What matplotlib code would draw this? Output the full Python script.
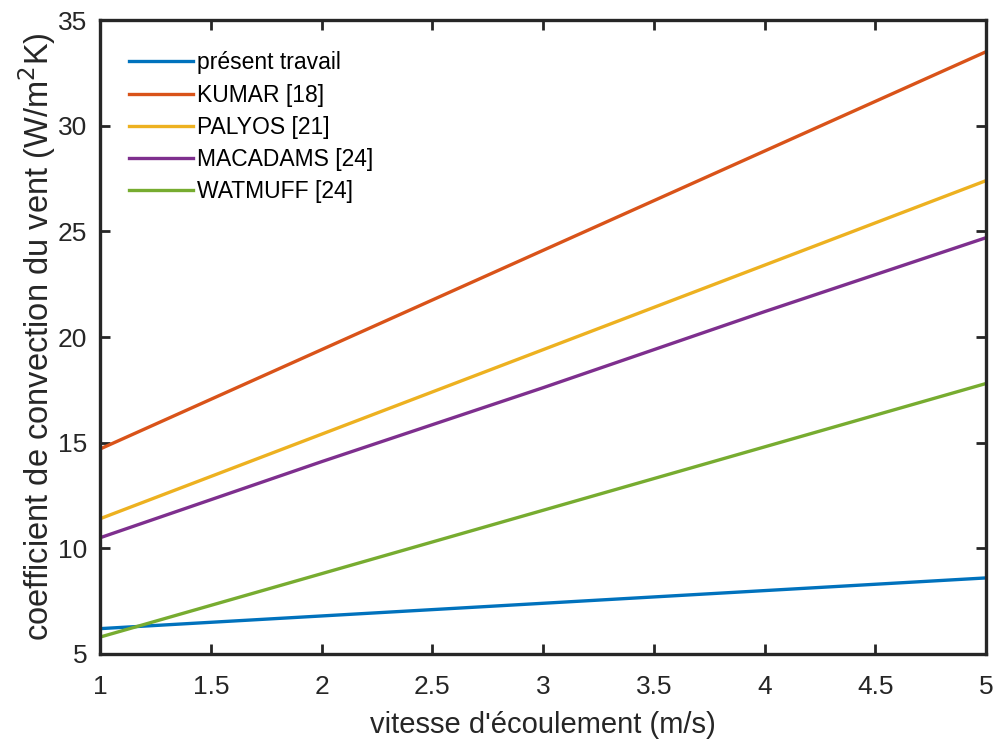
import matplotlib.pyplot as plt

plt.rcParams['font.family'] = ['Liberation Sans', 'DejaVu Sans']

# wind speed (m/s)
vitesse = [1, 2, 3, 4, 5]
# convection coefficients (W/m2K)
present = [6.2, 6.8, 7.4, 8.0, 8.6]
kumar = [14.7, 19.4, 24.1, 28.8, 33.5]
palyos = [11.4, 15.4, 19.4, 23.4, 27.4]
macadams = [10.5, 14.1, 17.6, 21.2, 24.7]
watmuff = [5.8, 8.8, 11.8, 14.8, 17.8]

noms = ["présent travail", "KUMAR [18]", "PALYOS [21]", "MACADAMS [24]", "WATMUFF [24]"]
couleurs = ["#0072BD", "#D95319", "#EDB120", "#7E2F8E", "#77AC30"]

fig = plt.figure(figsize=(9.97, 7.42), dpi=100)
ax = fig.add_axes([0.1003, 0.1186, 0.8887, 0.8544])

for serie, nom, c in zip([present, kumar, palyos, macadams, watmuff], noms, couleurs):
    ax.plot(vitesse, serie, color=c, linewidth=2.4, label=nom)

ax.set_xlim(1, 5)
ax.set_ylim(5, 35)
ax.set_xticks([1, 1.5, 2, 2.5, 3, 3.5, 4, 4.5, 5])
ax.set_xticklabels(["1", "1.5", "2", "2.5", "3", "3.5", "4", "4.5", "5"])
ax.set_yticks([5, 10, 15, 20, 25, 30, 35])

ax.tick_params(direction='in', length=7, width=2.0, top=True, right=True,
               labelsize=19, colors='#262626')
ax.tick_params(axis='x', pad=15)
ax.tick_params(axis='y', pad=9)
for s in ax.spines.values():
    s.set_linewidth(2.4)
    s.set_color('#262626')

ax.set_xlabel("vitesse d'écoulement (m/s)", fontsize=21, color='#262626', labelpad=9)
ax.set_ylabel("coefficient de convection du vent (W/m$^{2}$K)", fontsize=23.5,
              color='#262626', labelpad=0)

ax.legend(loc='upper left', frameon=False, fontsize=16.5, handlelength=2.8,
          handletextpad=0.17, labelspacing=0.4, borderaxespad=0.0,
          bbox_to_anchor=(0.0224, 0.965))

plt.savefig("out.png", dpi=100)
